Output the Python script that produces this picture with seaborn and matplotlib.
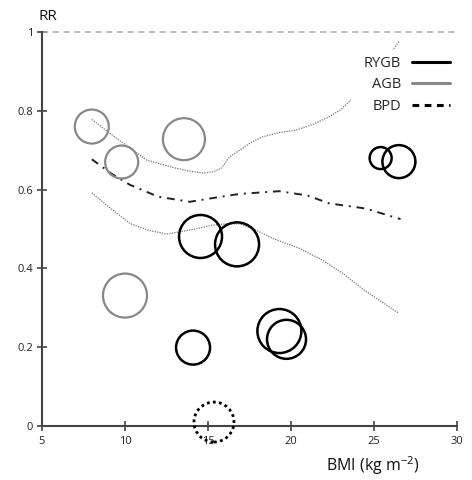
import numpy as np
import pandas as pd
import matplotlib
matplotlib.use("Agg")
import matplotlib.pyplot as plt
from matplotlib.lines import Line2D
from matplotlib.patches import Rectangle
import seaborn as sns

sns.set_theme(style="white")
plt.rcParams['font.family'] = ['Open Sans', 'DejaVu Sans']

# ---- data ----
procedures = ["RYGB", "AGB", "BPD"]

agb_bmi = [8.0, 9.8, 13.55, 10.0]
agb_rr = [0.76, 0.67, 0.728, 0.331]
agb_weight = [17, 16.5, 21, 22]

rygb_bmi = [14.1, 14.55, 16.75, 25.4, 26.5, 19.3, 19.73]
rygb_rr = [0.199, 0.481, 0.461, 0.68, 0.671, 0.241, 0.22]
rygb_weight = [17, 21.5, 22, 11, 16.5, 22, 19.5]

bpd_bmi = [15.36]
bpd_rr = [0.01]
bpd_weight = [20]

fit_bmi = [8.0, 9.2, 10.3, 12.0, 13.9, 15.5, 16.9, 19.3, 21.0, 22.3, 24.5, 26.6]
fit_rr = [0.677, 0.64, 0.612, 0.582, 0.569, 0.58, 0.589, 0.596, 0.585, 0.565, 0.552, 0.525]

upper_bmi = [8.0, 9.5, 11.3, 13.0, 14.0, 14.7, 15.3, 15.8, 16.3, 16.9, 17.6, 18.3,
             19.3, 20.3, 21.3, 22.3, 23.0, 23.6, 25.0, 26.5]
upper_rr = [0.778, 0.73, 0.675, 0.655, 0.646, 0.642, 0.645, 0.654, 0.683, 0.70, 0.72, 0.734,
            0.745, 0.751, 0.765, 0.785, 0.803, 0.827, 0.89, 0.975]

lower_bmi = [8.0, 9.2, 10.3, 11.4, 12.5, 14.0, 15.3, 16.1, 16.9, 17.9, 18.9, 20.5, 21.9,
             23.2, 24.4, 26.5]
lower_rr = [0.592, 0.55, 0.514, 0.497, 0.487, 0.498, 0.51, 0.513, 0.513, 0.497, 0.476,
            0.451, 0.421, 0.385, 0.345, 0.286]

x_ticks = [5, 10, 15, 20, 25, 30]
y_ticks = [0, 0.2, 0.4, 0.6, 0.8, 1]
y_tick_labels = ["0", "0.2", "0.4", "0.6", "0.8", "1"]

# ---- figure ----
W, H, DPI = 472, 480, 100
fig = plt.figure(figsize=(W / DPI, H / DPI), dpi=DPI)
ax = fig.add_axes([42 / W, 54 / H, 415 / W, 394 / H])
ax.set_xlim(5, 30)
ax.set_ylim(0, 1)

def s_from_r(r):
    return (2 * np.asarray(r) * 72 / DPI) ** 2

# reference line RR = 1
ax.axhline(1, color="#aaaaaa", lw=1.1, dashes=(4, 3), zorder=1, clip_on=False)

# CI bands and fit
sns.lineplot(x=upper_bmi, y=upper_rr, ax=ax, sort=False, color="#777777", lw=0.9,
             linestyle=(0, (1, 1)), zorder=2)
sns.lineplot(x=lower_bmi, y=lower_rr, ax=ax, sort=False, color="#777777", lw=0.9,
             linestyle=(0, (1, 1)), zorder=2)
sns.lineplot(x=fit_bmi, y=fit_rr, ax=ax, sort=False, color="#222222", lw=1.4,
             linestyle=(0, (4, 3, 1, 3)), zorder=2)

# study circles
sns.scatterplot(x=agb_bmi, y=agb_rr, ax=ax, s=s_from_r(agb_weight), color="#888888",
                facecolor="none", edgecolor="#888888", linewidth=1.6, zorder=3, clip_on=False)
sns.scatterplot(x=rygb_bmi, y=rygb_rr, ax=ax, s=s_from_r(rygb_weight), color="black",
                facecolor="none", edgecolor="black", linewidth=1.8, zorder=3, clip_on=False)
sns.scatterplot(x=bpd_bmi, y=bpd_rr, ax=ax, s=s_from_r(bpd_weight), color="black",
                facecolor="none", edgecolor="black", linewidth=2.0, linestyle=(0, (1, 1.2)),
                zorder=3, clip_on=False)

# axes styling
for side in ["top", "right"]:
    ax.spines[side].set_visible(False)
for side in ["left", "bottom"]:
    ax.spines[side].set_color("#444444")
    ax.spines[side].set_linewidth(1.5)
ax.set_xticks(x_ticks)
ax.set_xticklabels([str(t) for t in x_ticks])
ax.set_yticks(y_ticks)
ax.set_yticklabels(y_tick_labels)
ax.tick_params(axis="both", direction="inout", length=7, width=1.2, color="#444444",
               labelsize=8, labelcolor="#222222", left=True, bottom=True)
ax.tick_params(axis="x", pad=4)
ax.tick_params(axis="y", pad=3)
ax.set_xlabel("")
ax.set_ylabel("")
ax.grid(False)

fig.text(48 / W, 1 - 16 / H, "RR", ha="center", va="center", fontsize=11, color="#111111")
fig.text(373 / W, 1 - 466 / H, "BMI (kg m$^{\\mathregular{-2}}$)", ha="center", va="center",
         fontsize=11.5, color="#111111")

# white backdrop behind the legend (hides the band there, as in the reference)
ax.add_patch(Rectangle((351 / W, 1 - 116 / H), 105 / W, 66 / H, transform=fig.transFigure,
                       facecolor="white", edgecolor="none", zorder=4, clip_on=False))

handles = [
    Line2D([0], [0], color="black", lw=2.2),
    Line2D([0], [0], color="#888888", lw=2.2),
    Line2D([0], [0], color="black", lw=2.2, dashes=(2.2, 1.8)),
]
leg = ax.legend(handles, procedures, loc="upper right", bbox_to_anchor=(462 / W, 1 - 44 / H),
                bbox_transform=fig.transFigure, markerfirst=False, frameon=False,
                fontsize=10.5, handlelength=2.6, labelspacing=0.45, handletextpad=0.8,
                borderpad=0.3)
leg.set_zorder(5)

fig.savefig("out.png", dpi=DPI)
